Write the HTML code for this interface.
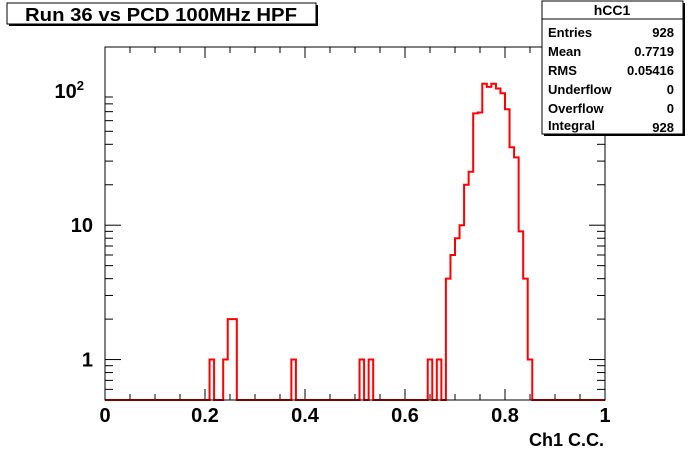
<!DOCTYPE html>
<html><head><meta charset="utf-8"><style>
html,body{margin:0;padding:0;background:#fff;}
svg{display:block;font-family:"Liberation Sans",Arial,sans-serif;font-weight:bold;}
</style></head><body>
<svg id="c" width="696" height="472" viewBox="0 0 696 472">
  <g>
    <rect x="9" y="5" width="309" height="21" fill="#000"/>
    <rect x="7" y="3" width="309" height="21" fill="#fff" stroke="#000" stroke-width="1"/>
    <text x="161" y="21" font-size="18" text-anchor="middle" textLength="272" lengthAdjust="spacingAndGlyphs">Run 36 vs PCD 100MHz HPF</text>
  </g>
  <g id="axes"></g>
  <g id="hist"></g>
  <rect x="105" y="47" width="500" height="353" fill="none" stroke="#000" stroke-width="1"/>
  <g>
    <rect x="544" y="3" width="141" height="133" fill="#000"/>
    <rect x="542" y="1" width="141" height="133" fill="#fff" stroke="#000" stroke-width="1"/>
    <line x1="542" y1="19" x2="683" y2="19" stroke="#000"/>
    <text x="612" y="15" font-size="14" text-anchor="middle">hCC1</text>
    <g font-size="13">
      <text x="548" y="37">Entries</text>
      <text x="674" y="37" text-anchor="end">928</text>
      <text x="548" y="56">Mean</text>
      <text x="674" y="56" text-anchor="end">0.7719</text>
      <text x="548" y="75">RMS</text>
      <text x="674" y="75" text-anchor="end">0.05416</text>
      <text x="548" y="94">Underflow</text>
      <text x="674" y="94" text-anchor="end">0</text>
      <text x="548" y="113">Overflow</text>
      <text x="674" y="113" text-anchor="end">0</text>
      <text x="548" y="130">Integral</text>
      <text x="674" y="132" text-anchor="end">928</text>
    </g>
  </g>
  <text x="604" y="446" font-size="18" text-anchor="end">Ch1 C.C.</text>
</svg>
<script>
const nBins = 110;
const binIndex = [23,26,27,28,41,56,58,71,73,75,76,77,78,79,80,81,82,83,84,85,86,87,88,89,90,91,92,93];
const binCounts = [1,1,2,2,1,1,1,1,1,4,6,8,10,20,25,68,69,113,107,113,104,96,73,38,32,9,4,1];
const xTickLabels = ["0","0.2","0.4","0.6","0.8","1"];
const xTickValues = [0,0.2,0.4,0.6,0.8,1];
const yTickValues = [1,10,100];

const X0=105,X1=605,Y0=400,Y1=47;
const yMin=0.5,yMax=212;
const NS="http://www.w3.org/2000/svg";
function xs(v){return X0+(X1-X0)*v;}
function ys(v){ if(v<=yMin) return Y0; return Y0-(Y0-Y1)*(Math.log10(v)-Math.log10(yMin))/(Math.log10(yMax)-Math.log10(yMin)); }
function mk(tag,attrs,parent){const e=document.createElementNS(NS,tag);for(const k in attrs)e.setAttribute(k,attrs[k]);parent.appendChild(e);return e;}

const axes=document.getElementById('axes');
for(let i=0;i<=20;i++){
  const v=i*0.05, x=xs(v), major=(i%4===0);
  const len=major?11:6;
  const t1=mk('line',{x1:x,y1:Y0,x2:x,y2:Y0-len,stroke:'#000','stroke-width':1},axes);
  
  
  const t2=mk('line',{x1:x,y1:Y1,x2:x,y2:Y1+len,stroke:'#000','stroke-width':1},axes);
  
  
}
xTickLabels.forEach((lab,i)=>{
  const t=mk('text',{x:xs(xTickValues[i]),y:422,'font-size':20,'text-anchor':'middle'},axes);
  t.textContent=lab;
  
  
});
for(let d=0;d<3;d++){
  for(let m=1;m<=9;m++){
    const v=m*Math.pow(10,d-1);
    if(v<yMin||v>yMax) continue;
    const y=ys(v), major=(m===1);
    const len=major?16:8;
    const a=mk('line',{x1:X0,y1:y,x2:X0+len,y2:y,stroke:'#000','stroke-width':1},axes);
    
    
    const b=mk('line',{x1:X1,y1:y,x2:X1-len,y2:y,stroke:'#000','stroke-width':1},axes);
    
    
  }
}
yTickValues.forEach(v=>{
  const y=ys(v);
  const t=mk('text',{x:93,y:y+7,'font-size':20,'text-anchor':'end'},axes);
  if(v===100){
    t.setAttribute('x',84);
    t.textContent='10';
    const s=mk('tspan',{dy:-8,'font-size':13},t);
    s.textContent='2';
  } else t.textContent=String(v);
  
  
});

const counts=new Array(nBins).fill(0);
binIndex.forEach((b,i)=>{counts[b]=binCounts[i];});
let d='M'+xs(0)+','+ys(counts[0]);
for(let i=0;i<nBins;i++){
  const xl=xs(i/nBins), xr=xs((i+1)/nBins), y=ys(counts[i]);
  d+=' L'+xl+','+y+' L'+xr+','+y;
}
const p=mk('path',{d:d,fill:'none',stroke:'#ff0000','stroke-width':2,'stroke-linejoin':'miter'},document.getElementById('hist'));


</script>
</body></html>
